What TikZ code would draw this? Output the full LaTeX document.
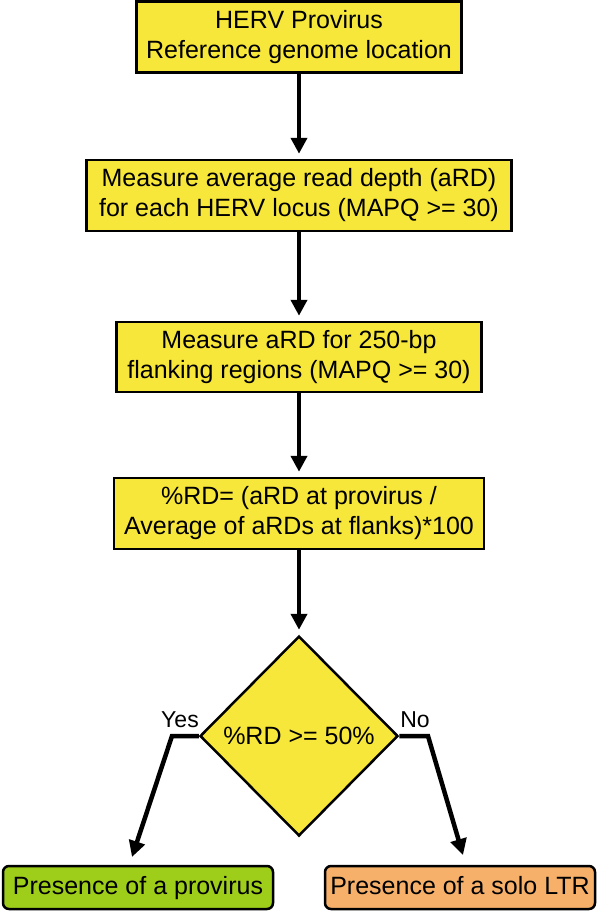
\documentclass[tikz,border=0pt]{standalone}
\usepackage{fontspec}
\setmainfont{Liberation Sans}
\usetikzlibrary{shapes.geometric,arrows.meta}
\definecolor{boxyellow}{RGB}{247,231,58}
\definecolor{provgreen}{RGB}{158,206,26}
\definecolor{ltrorange}{RGB}{246,176,106}
\tikzset{
  stepbox/.style={draw=black, line width=2.5pt, fill=boxyellow, align=center,
    inner sep=0pt, font=\fontsize{25}{30}\selectfont},
  decision/.style={diamond, draw=black, line width=2.5pt, fill=boxyellow,
    inner sep=0pt, minimum width=198pt, minimum height=200pt,
    font=\fontsize{25}{30}\selectfont},
  outcome/.style={draw=black, line width=2.5pt, rounded corners=6pt, inner sep=0pt,
    text height=18pt, text depth=5pt,
    minimum width=270pt, minimum height=43pt, font=\fontsize{25}{30}\selectfont},
  flow/.style={line width=4.5pt, -{Triangle[length=16pt,width=16pt]}, shorten >=5pt},
  branch/.style={line width=4.5pt, -{Triangle[length=16pt,width=16pt]}},
  answer/.style={inner sep=0pt, font=\fontsize{23}{27}\selectfont}
}
\begin{document}
\begin{tikzpicture}[x=1pt, y=-1pt]
        \useasboundingbox (0,0) rectangle (598,913);
        \node[stepbox, minimum width=325pt, minimum height=71pt] (herv)  at (299, 37)
              {HERV Provirus\\Reference genome location};
        \node[stepbox, minimum width=425pt, minimum height=71pt] (depth) at (299, 195.5)
              {Measure average read depth (aRD)\\for each HERV locus (MAPQ >= 30)};
        \node[stepbox, minimum width=365pt, minimum height=70pt] (flank) at (299, 357)
              {Measure aRD for 250-bp\\flanking regions (MAPQ >= 30)};
        \node[stepbox, minimum width=370pt, minimum height=71pt] (ratio) at (299, 513.5)
              {\%RD= (aRD at provirus /\\Average of aRDs at flanks)*100};
        \node[decision] (dec) at (299, 736) {\%RD >= 50\%};
        \node[outcome, fill=provgreen] (prov) at (138, 887.5) {Presence of a provirus};
        \node[outcome, fill=ltrorange] (solo) at (460, 887.5) {Presence of a solo LTR};
        \coordinate (yesbend) at (172, 736);
        \coordinate (yesend)  at (132, 857);
        \coordinate (nobend)  at (428, 736);
        \coordinate (noend)   at (463, 855);
        \draw[flow]   (herv) -- (depth);
        \draw[flow]   (depth) -- (flank);
        \draw[flow]   (flank) -- (ratio);
        \draw[flow]   (ratio) -- (dec);
        \draw[branch] (dec.west) -- (yesbend) -- (yesend);
        \draw[branch] (dec.east) -- (nobend) -- (noend);
        \node[answer] (yes) at (180, 720) {Yes};
        \node[answer] (no)  at (415, 720) {No};
\end{tikzpicture}
\end{document}
